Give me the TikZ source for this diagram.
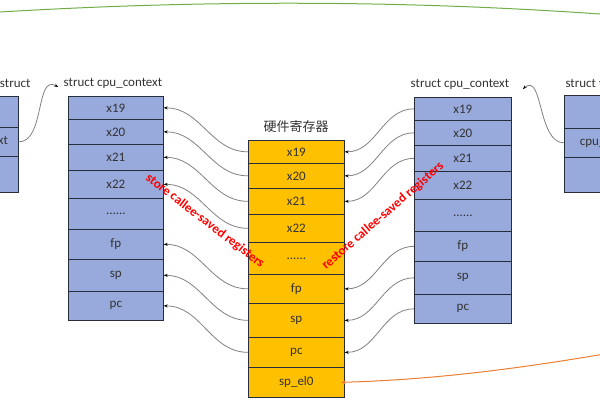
\documentclass[tikz,border=0pt]{standalone}
\usepackage{fontspec}
\setmainfont{Carlito}
\newfontfamily\cjk{Noto Sans CJK SC}
\usetikzlibrary{arrows.meta}

\definecolor{cpublue}{RGB}{152,170,220}
\definecolor{hwyellow}{RGB}{255,192,0}
\definecolor{cellline}{RGB}{40,45,60}
\definecolor{arcgreen}{RGB}{112,173,71}
\definecolor{sporange}{RGB}{237,125,49}
\newcommand\regdots{......}

\begin{document}
\begin{tikzpicture}[x=1pt, y=-1pt,
  every node/.style={font=\fontsize{13}{15}\selectfont, text=black!80},
  cell/.style={draw=cellline, line width=.7pt, inner sep=0, anchor=north west},
  bluecell/.style={cell, fill=cpublue},
  hwcell/.style={cell, fill=hwyellow},
  conn/.style={draw=gray, line width=.8pt, -{Stealth[length=4pt,width=3pt,black]}},
  redlbl/.style={text=red, font=\fontsize{13}{15}\selectfont\bfseries}]
\useasboundingbox (0,0) rectangle (600,400);
\clip (0,0) rectangle (600,400);

% task_struct, cut at both sides
\foreach \t/\a/\b [count=\i] in {/96/127, cpu\_context/127/156, /156/192}
 \node[bluecell, minimum width=86, minimum height={\b-\a}] (LT\i) at (-68,\a) {\t};
\foreach \t/\a/\b [count=\i] in {/95/128, cpu\_context/128/157, /157/192}
 \node[bluecell, minimum width=96, minimum height={\b-\a}] (RT\i) at (564,\a) {\t};
\node[anchor=east] (LTtitle) at (34,84) {struct task\_struct};
\node[anchor=west] (RTtitle) at (562,84) {struct task\_struct};

% cpu_context of prev and next
\foreach \t/\a/\b [count=\i] in {x19/96/119, x20/119/144, x21/144/170, x22/170/198,
  \regdots/198/229, fp/229/259, sp/259/291, pc/291/320}
 \node[bluecell, minimum width=95, minimum height={\b-\a}] (L\i) at (68,\a) {\t};
\foreach \t/\a/\b [count=\i] in {x19/97/120, x20/120/145, x21/145/171, x22/171/199,
  \regdots/199/231, fp/231/261, sp/261/294, pc/294/323}
 \node[bluecell, minimum width=97, minimum height={\b-\a}] (R\i) at (414,\a) {\t};
\node (Ltitle) at (113,83) {struct cpu\_context};
\node (Rtitle) at (460,84) {struct cpu\_context};

% hardware registers
\foreach \t/\a/\b [count=\i] in {x19/140/163, x20/163/188, x21/188/214, x22/214/242,
  \regdots/242/274, fp/274/303, sp/303/337, pc/337/367, sp\_el0/367/397}
 \node[hwcell, minimum width=96, minimum height={\b-\a}] (M\i) at (248,\a) {\t};
\node (Mtitle) at (296,127) {\cjk 硬件寄存器};

\draw[conn] (LT2.east) to[out=0,in=150] ([shift={(-2,4)}]Ltitle.west);
\draw[conn] (RT2.west) to[out=180,in=40] ([shift={(10,5)}]Rtitle.east);

\foreach \i in {1,2,3,4,6,7,8}
 \draw[conn] (M\i.west) to[out=180,in=0] (L\i.east);
\foreach \i in {1,2,3,6,7,8}
 \draw[conn] (R\i.west) to[out=180,in=0] (M\i.east);

\node[redlbl, rotate=-37.5] (store) at (205,221) {store callee-saved registers};
\node[redlbl, rotate=41] (restore) at (383,216) {restore callee-saved registers};

\coordinate (gA) at (0,12);
\coordinate (gB) at (600,14);
\draw[arcgreen, line width=1pt] (gA) .. controls (200,0) and (400,0) .. (gB);

\coordinate (oS) at (610,353);
\draw[sporange, line width=1pt, -{Stealth[length=5pt,width=4pt]}]
 (oS) .. controls (500,372) and (420,380) .. ([xshift=-4]M9.east);
\end{tikzpicture}
\end{document}
